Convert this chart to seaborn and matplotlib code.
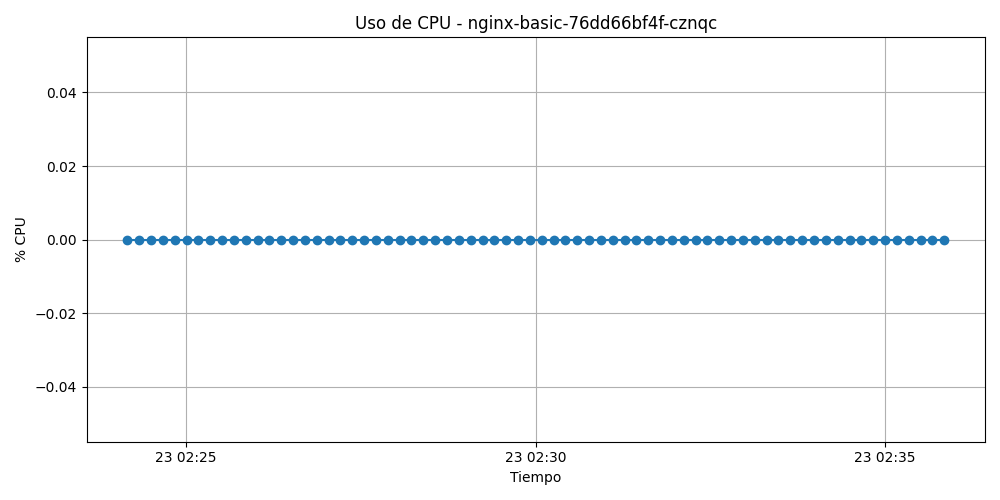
import pandas as pd
import seaborn as sns
from matplotlib import pyplot as plt

pod_name = "nginx-basic-76dd66bf4f-cznqc"
fecha = "2025-06-23"

# muestras tomadas aprox. cada 10 s (con algo de deriva)
timestamps = [
    "02:24:09.7", "02:24:19.9", "02:24:30.0", "02:24:40.2", "02:24:50.3",
    "02:25:00.5", "02:25:10.7", "02:25:20.8", "02:25:31.0", "02:25:41.1",
    "02:25:51.3", "02:26:01.5", "02:26:11.6", "02:26:21.8", "02:26:31.9",
    "02:26:42.1", "02:26:52.3", "02:27:02.4", "02:27:12.6", "02:27:22.7",
    "02:27:32.9", "02:27:43.1", "02:27:53.2", "02:28:03.4", "02:28:13.5",
    "02:28:23.7", "02:28:33.9", "02:28:44.0", "02:28:54.2", "02:29:04.3",
    "02:29:14.5", "02:29:24.7", "02:29:34.8", "02:29:45.0", "02:29:55.1",
    "02:30:05.3", "02:30:15.5", "02:30:25.6", "02:30:35.8", "02:30:45.9",
    "02:30:56.1", "02:31:06.3", "02:31:16.4", "02:31:26.6", "02:31:36.7",
    "02:31:46.9", "02:31:57.1", "02:32:07.2", "02:32:17.4", "02:32:27.5",
    "02:32:37.7", "02:32:47.9", "02:32:58.0", "02:33:08.2", "02:33:18.3",
    "02:33:28.5", "02:33:38.7", "02:33:48.8", "02:33:59.0", "02:34:09.1",
    "02:34:19.3", "02:34:29.5", "02:34:39.6", "02:34:49.8", "02:34:59.9",
    "02:35:10.1", "02:35:20.3", "02:35:30.4", "02:35:40.6", "02:35:50.7",
]
cpu_percent = [
    0.0, 0.0, 0.0, 0.0, 0.0, 0.0, 0.0, 0.0, 0.0, 0.0,
    0.0, 0.0, 0.0, 0.0, 0.0, 0.0, 0.0, 0.0, 0.0, 0.0,
    0.0, 0.0, 0.0, 0.0, 0.0, 0.0, 0.0, 0.0, 0.0, 0.0,
    0.0, 0.0, 0.0, 0.0, 0.0, 0.0, 0.0, 0.0, 0.0, 0.0,
    0.0, 0.0, 0.0, 0.0, 0.0, 0.0, 0.0, 0.0, 0.0, 0.0,
    0.0, 0.0, 0.0, 0.0, 0.0, 0.0, 0.0, 0.0, 0.0, 0.0,
    0.0, 0.0, 0.0, 0.0, 0.0, 0.0, 0.0, 0.0, 0.0, 0.0,
]

df = pd.DataFrame({
    "time": pd.to_datetime([f"{fecha} {t}" for t in timestamps]),
    "cpu": cpu_percent,
})

fig, ax = plt.subplots(figsize=(10, 5))
sns.lineplot(data=df, x="time", y="cpu", marker="o", color="C0",
             markeredgecolor="C0", markeredgewidth=1, ax=ax)

ax.set_title(f"Uso de CPU - {pod_name}")
ax.set_xlabel("Tiempo")
ax.set_ylabel("% CPU")
ax.grid(True)

fig.tight_layout()
plt.savefig("out.png", dpi=100)
